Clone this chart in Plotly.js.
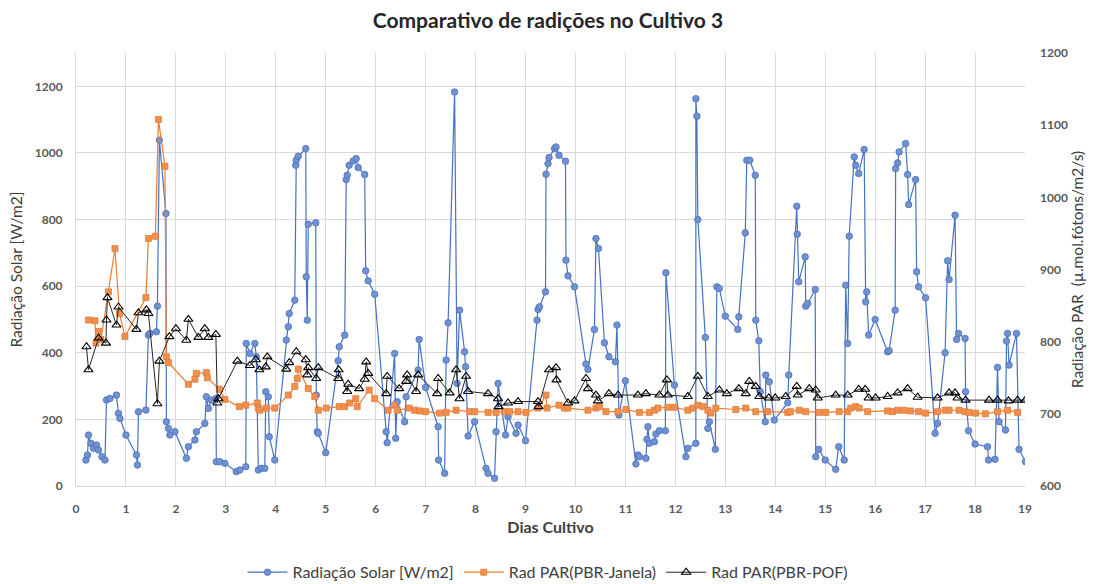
<!DOCTYPE html>
<html>
<head>
<meta charset="utf-8">
<script src="https://cdn.plot.ly/plotly-3.0.1.min.js"></script>
<style>html,body{margin:0;padding:0;background:#fff;}#chart{width:1096px;height:584px;}</style>
</head>
<body>
<div id="chart"></div>
<script>
// Radiação Solar [W/m2] (left axis)
const solarX = [0.20,0.23,0.25,0.30,0.35,0.41,0.45,0.52,0.58,0.61,0.68,0.81,0.85,0.88,1.00,1.21,1.23,1.25,1.40,1.45,1.48,1.61,1.63,1.67,1.80,1.81,1.85,1.88,1.98,
  2.21,2.25,2.38,2.41,2.58,2.61,2.65,2.71,2.80,2.81,2.88,2.98,3.21,3.28,3.40,3.41,3.48,3.58,3.61,3.65,3.71,3.78,3.80,3.85,3.87,3.98,
  4.21,4.25,4.27,4.38,4.40,4.41,4.45,4.60,4.61,4.63,4.65,4.80,4.81,4.83,4.85,5.00,5.25,5.27,5.38,5.41,5.43,5.47,5.55,5.61,5.65,5.78,5.80,5.85,5.98,
  6.21,6.23,6.38,6.40,6.43,6.58,6.61,6.85,6.87,7.00,7.25,7.26,7.38,7.41,7.45,7.58,7.63,7.68,7.78,7.80,7.85,7.98,
  8.21,8.25,8.38,8.41,8.45,8.60,8.65,8.81,8.85,9.00,9.23,9.25,9.28,9.40,9.41,9.45,9.47,9.58,9.61,9.67,9.80,9.81,9.85,9.98,
  10.21,10.25,10.38,10.41,10.46,10.58,10.67,10.80,10.83,10.87,11.00,11.21,11.25,11.28,11.41,11.43,11.45,11.48,11.58,11.61,11.68,11.80,11.81,11.98,
  12.21,12.25,12.41,12.41,12.43,12.45,12.60,12.65,12.68,12.80,12.83,12.88,13.00,13.25,13.27,13.40,13.43,13.49,13.60,13.61,13.67,13.70,13.80,13.81,13.88,13.98,
  14.25,14.27,14.43,14.44,14.47,14.60,14.61,14.65,14.80,14.81,14.87,15.00,15.21,15.27,15.38,15.41,15.45,15.48,15.58,15.61,15.67,15.78,15.81,15.83,15.87,16.00,
  16.25,16.28,16.40,16.41,16.45,16.48,16.61,16.65,16.67,16.81,16.83,16.87,17.01,17.20,17.25,17.40,17.45,17.48,17.60,17.63,17.67,17.80,17.81,17.87,18.00,
  18.25,18.27,18.40,18.45,18.48,18.61,18.63,18.65,18.68,18.83,18.88,19.01];
const solarY = [78,93,153,128,113,123,108,88,78,258,263,273,218,203,153,93,63,223,228,453,458,463,540,1038,818,193,173,153,163,
  83,118,138,163,188,268,233,258,263,73,73,68,43,48,58,428,398,428,388,48,53,53,283,268,148,78,
  438,478,518,558,963,978,990,1013,628,498,786,790,273,163,158,100,376,418,453,920,933,963,976,983,956,935,646,616,576,
  163,130,398,143,253,193,268,348,440,296,178,78,38,378,490,1183,308,528,403,358,150,193,
  53,38,23,163,308,153,208,158,183,136,498,530,538,583,936,968,986,1013,1018,993,975,678,631,598,
  366,350,470,743,713,430,388,373,483,213,316,66,93,88,83,140,178,128,133,156,166,166,640,303,
  88,113,128,1163,1110,800,446,173,193,110,598,593,510,470,508,760,978,978,933,498,436,283,193,333,313,198,
  250,333,840,756,613,688,540,548,590,88,110,78,50,118,78,603,428,750,988,963,938,1010,553,583,453,500,
  403,406,528,953,970,1003,1028,935,845,920,643,598,565,158,188,400,676,620,813,440,458,443,283,166,126,
  118,78,80,356,193,168,435,458,363,458,110,73];

// Rad PAR (PBR-Janela) (right axis)
const janelaX = [0.25,0.38,0.40,0.45,0.50,0.65,0.78,0.87,0.98,1.40,1.45,1.59,1.65,1.78,1.81,1.85,2.25,2.38,2.41,2.61,2.63,2.87,2.98,3.27,3.40,3.63,3.65,3.68,3.81,3.98,
  4.25,4.38,4.43,4.45,4.65,4.78,4.85,5.01,5.27,5.38,5.48,5.60,5.63,5.87,5.98,6.25,6.38,6.43,6.67,6.78,6.88,7.00,7.28,7.41,7.61,7.88,7.98,
  8.25,8.41,8.58,8.68,8.85,9.01,9.25,9.41,9.43,9.67,9.78,9.85,10.25,10.41,10.48,10.61,10.85,11.01,11.28,11.48,11.58,11.65,11.85,11.98,
  12.25,12.35,12.45,12.55,12.65,12.71,12.81,13.21,13.41,13.61,13.85,14.25,14.30,14.48,14.61,14.88,15.01,15.28,15.45,15.51,15.61,15.68,15.85,
  16.25,16.35,16.45,16.58,16.71,16.87,17.01,17.25,17.40,17.48,17.68,17.80,17.88,18.01,18.21,18.45,18.65,18.85];
const janelaY = [830,829,798,814,803,869,929,839,807,861,943,946,1108,1043,779,771,741,748,756,757,750,734,720,710,712,715,708,705,708,708,
  726,738,749,762,735,724,705,708,710,710,715,721,710,733,721,705,712,705,708,705,704,703,701,702,705,703,703,
  702,702,703,703,703,702,708,726,708,712,708,708,705,708,710,703,703,706,702,702,705,708,709,709,
  705,708,712,710,705,701,708,706,708,703,703,702,703,705,703,702,702,703,703,708,710,708,703,
  704,703,705,705,704,703,701,703,705,705,705,703,702,701,700,703,705,702];

// Rad PAR (PBR-POF) (right axis)
const pofX = [0.21,0.25,0.45,0.60,0.61,0.63,0.81,0.85,1.21,1.25,1.41,1.45,1.63,1.67,1.87,2.00,2.21,2.25,2.45,2.58,2.65,2.80,2.83,2.85,3.23,3.48,3.60,3.67,3.80,3.83,
  4.21,4.27,4.41,4.60,4.63,4.65,4.81,4.85,5.25,5.26,5.43,5.45,5.67,5.78,5.81,5.85,6.21,6.23,6.47,6.61,6.63,6.81,6.85,7.23,7.25,7.48,7.61,7.68,7.81,7.85,
  8.25,8.45,8.46,8.65,8.85,9.25,9.26,9.47,9.61,9.62,9.85,9.98,10.21,10.25,10.41,10.45,10.67,10.85,11.25,11.41,11.68,11.83,11.85,
  12.25,12.45,12.65,12.88,13.03,13.27,13.41,13.48,13.61,13.68,13.87,14.00,14.21,14.43,14.45,14.68,14.81,14.85,15.21,15.45,15.67,15.80,15.87,
  16.01,16.25,16.45,16.65,16.85,17.25,17.48,17.60,17.65,17.81,18.28,18.45,18.67,18.85,19.01];
const pofY = [793,761,805,798,830,861,823,848,817,840,844,839,714,773,807,818,802,831,806,818,806,810,715,721,773,767,775,761,765,779,
  762,771,786,775,754,764,749,764,749,761,731,741,735,748,772,756,728,752,735,745,754,731,754,728,749,729,761,721,752,731,
  728,721,710,715,717,717,710,761,764,747,715,718,749,735,726,718,728,726,726,728,726,747,726,
  724,752,724,733,728,735,728,745,738,724,722,722,724,738,726,735,733,722,726,726,734,734,722,
  722,724,729,735,723,722,729,729,722,719,719,719,718,719,719];

const seriesNames = ['Radiação Solar [W/m2]', 'Rad PAR(PBR-Janela)', 'Rad PAR(PBR-POF)'];
const xTicks = [0,1,2,3,4,5,6,7,8,9,10,11,12,13,14,15,16,17,18,19];

const FONT = 'Lato, "Open Sans", sans-serif';
const tickFont = {family: FONT, size: 12, color: '#595959', weight: 'bold'};

const traces = [
  {x: solarX, y: solarY, name: seriesNames[0], type: 'scatter', mode: 'lines+markers',
   line: {color: '#4472C4', width: 1.2},
   marker: {symbol: 'circle', size: 6.5, color: '#7092D4', line: {color: '#4A6FB8', width: 0.8}},
   yaxis: 'y'},
  {x: janelaX, y: janelaY, name: seriesNames[1], type: 'scatter', mode: 'lines+markers',
   line: {color: '#ED7D31', width: 1.2},
   marker: {symbol: 'square', size: 6, color: '#F0904F', line: {color: '#E57A35', width: 0.8}},
   yaxis: 'y2'},
  {x: pofX, y: pofY, name: seriesNames[2], type: 'scatter', mode: 'lines+markers',
   line: {color: '#262626', width: 1},
   marker: {symbol: 'triangle-up-open', size: 8, color: '#000000', line: {color: '#000000', width: 1.1}},
   yaxis: 'y2'}
];

const layout = {
  width: 1096, height: 584,
  margin: {l: 76, r: 71, t: 53, b: 98},
  paper_bgcolor: '#ffffff', plot_bgcolor: '#ffffff',
  font: {family: FONT, color: '#404040'},
  title: {text: 'Comparativo de radições no Cultivo 3', x: 0.5, xanchor: 'center', y: 0.965, yanchor: 'middle',
          font: {family: FONT, size: 21, color: '#262626', weight: 'bold'}},
  xaxis: {range: [0, 19], tickvals: xTicks, ticktext: xTicks.map(String), showgrid: true, gridcolor: '#d9d9d9',
          zeroline: false, showline: true, linecolor: '#d9d9d9', ticks: '', tickfont: tickFont,
          ticklabelstandoff: 12, automargin: false,
          title: {text: 'Dias Cultivo', font: {family: FONT, size: 16, color: '#404040', weight: 'bold'}, standoff: 6}},
  yaxis: {range: [0, 1300], tickvals: [0,200,400,600,800,1000,1200], showgrid: true, gridcolor: '#d9d9d9',
          zeroline: false, showline: true, linecolor: '#d9d9d9', ticks: '', tickfont: tickFont,
          ticklabelstandoff: 10, automargin: false,
          title: {text: 'Radiação Solar [W/m2]', font: {family: FONT, size: 15.5, color: '#404040'}, standoff: 8}},
  yaxis2: {range: [600, 1200], dtick: 100, overlaying: 'y', side: 'right', showgrid: false, zeroline: false,
           showline: false, ticks: '', tickfont: tickFont, ticklabelstandoff: 14, automargin: false,
           title: {text: 'Radiação PAR  (µ.mol.fótons/m2/s)', font: {family: FONT, size: 15.5, color: '#404040'}, standoff: 3}},
  legend: {orientation: 'h', x: 0.5, xanchor: 'center', xref: 'container', y: 0.02, yanchor: 'middle', yref: 'container',
           font: {family: FONT, size: 16, color: '#404040'}, itemwidth: 40, traceorder: 'normal'},
  showlegend: true
};

Plotly.newPlot('chart', traces, layout, {displayModeBar: false, staticPlot: true});
</script>
</body>
</html>
